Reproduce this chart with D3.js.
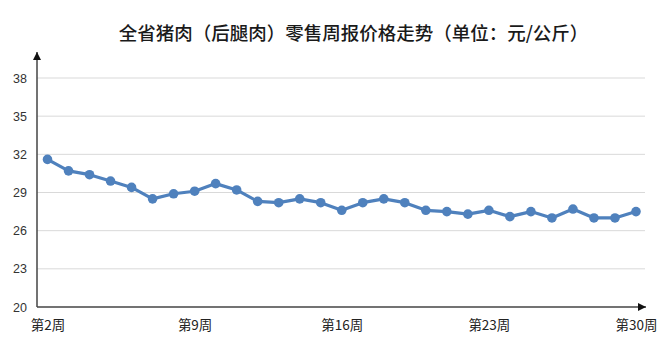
<!DOCTYPE html>
<html lang="zh">
<head>
  <meta charset="UTF-8">
  <title>全省猪肉零售周报价格走势</title>
  <style>
    html, body { margin: 0; padding: 0; background: #fff; }
    #main { width: 659px; height: 348px; }
    text { font-family: "Noto Sans CJK SC", "Noto Sans", sans-serif; }
  </style>
</head>
<body>
  <div id="main"></div>
  <script src="https://cdn.jsdelivr.net/npm/d3@7"></script>
  <script>
    // 数据
    const weeks = d3.range(2, 31)   // 第2周 ~ 第30周
    const prices = [31.6, 30.7, 30.4, 29.9, 29.4, 28.5, 28.9, 29.1, 29.7, 29.2,
      28.3, 28.2, 28.5, 28.2, 27.6, 28.2, 28.5, 28.2, 27.6, 27.5,
      27.3, 27.6, 27.1, 27.5, 27.0, 27.7, 27.0, 27.0, 27.5]
    const yTicks = [20, 23, 26, 29, 32, 35, 38]
    const xLabelWeeks = [2, 9, 16, 23, 30]
    const title = '全省猪肉（后腿肉）零售周报价格走势（单位：元/公斤）'

    const [width, height] = [659, 348]
    const svg = d3.select('#main').append('svg')
      .attr('width', width)
      .attr('height', height)

    const x = d3.scalePoint().domain(weeks).range([47.5, 636])
    const y = d3.scaleLinear().domain([20, 38]).range([307, 78])
    const axisX = 37

    // 标题
    svg.append('text')
      .attr('x', 353.5).attr('y', 40)
      .attr('text-anchor', 'middle')
      .style('font-size', '18.5px')
      .style('font-weight', 500)
      .style('fill', '#1a1a1a')
      .text(title)

    // 网格线
    svg.append('g')
      .selectAll('line')
      .data(yTicks.filter(d => d > 20))
      .join('line')
      .attr('x1', axisX).attr('x2', 645)
      .attr('y1', d => y(d)).attr('y2', d => y(d))
      .attr('stroke', '#d9d9d9').attr('stroke-width', 1)

    // y 轴刻度文字
    const yAxis = d3.axisLeft(y).tickValues(yTicks).tickSize(0).tickPadding(10)
    const gy = svg.append('g').attr('transform', `translate(${axisX},0)`).call(yAxis)
    gy.select('.domain').remove()
    gy.selectAll('text').style('font-size', '12.5px').style('fill', '#333')
      .style('font-family', '"Liberation Sans", "Noto Sans", sans-serif')

    // x 轴刻度文字
    const xAxis = d3.axisBottom(x).tickValues(xLabelWeeks).tickSize(0).tickPadding(13)
      .tickFormat(d => `第${d}周`)
    const gx = svg.append('g').attr('transform', `translate(0,${y(20)})`).call(xAxis)
    gx.select('.domain').remove()
    gx.selectAll('text').style('font-size', '13.5px').style('fill', '#222')

    // 带箭头的坐标轴
    const defs = svg.append('defs')
    defs.append('marker')
      .attr('id', 'arrow')
      .attr('viewBox', '0 0 10 10')
      .attr('refX', 10).attr('refY', 5)
      .attr('markerWidth', 9).attr('markerHeight', 8)
      .attr('markerUnits', 'userSpaceOnUse')
      .attr('orient', 'auto')
      .append('path')
      .attr('d', 'M0,0 L10,5 L0,10 Z')
      .attr('fill', '#111')

    svg.append('line')
      .attr('x1', axisX).attr('x2', axisX)
      .attr('y1', y(20)).attr('y2', 52)
      .attr('stroke', '#444').attr('stroke-width', 1.5)
      .attr('marker-end', 'url(#arrow)')
    svg.append('line')
      .attr('x1', axisX).attr('x2', 646)
      .attr('y1', y(20)).attr('y2', y(20))
      .attr('stroke', '#444').attr('stroke-width', 1.5)
      .attr('marker-end', 'url(#arrow)')

    // 折线
    const line = d3.line()
      .x((d, i) => x(weeks[i]))
      .y(d => y(d))
    svg.append('path')
      .datum(prices)
      .attr('d', line)
      .attr('fill', 'none')
      .attr('stroke', '#4f81bd')
      .attr('stroke-width', 3.2)
      .attr('stroke-linejoin', 'round')

    svg.append('g')
      .selectAll('circle')
      .data(prices)
      .join('circle')
      .attr('cx', (d, i) => x(weeks[i]))
      .attr('cy', d => y(d))
      .attr('r', 4.8)
      .attr('fill', '#4f81bd')
  </script>
</body>
</html>
